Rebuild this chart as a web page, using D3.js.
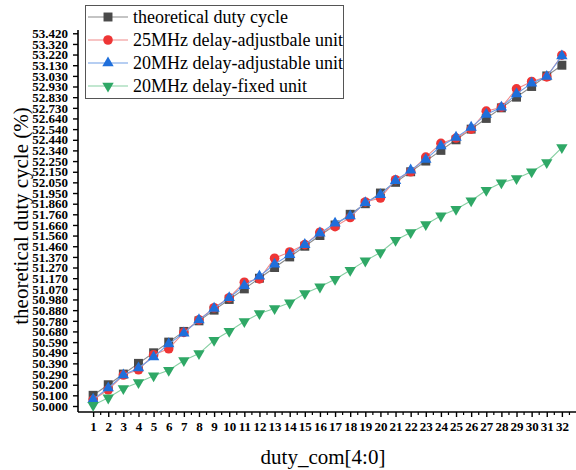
<!DOCTYPE html>
<html>
<head>
<meta charset="utf-8">
<script src="https://cdn.jsdelivr.net/npm/d3@7"></script>
<style>
  body { margin: 0; background: #fff; }
  svg text { font-family: "Liberation Serif", "Times New Roman", serif; }
</style>
</head>
<body>
<svg id="chart" width="576" height="470"></svg>
<script>
// x categories (duty_com code)
const codes = d3.range(1, 33);

const theoretical = [50.098, 50.195, 50.293, 50.391, 50.488, 50.586, 50.684, 50.781, 50.879, 50.977,
  51.074, 51.172, 51.270, 51.367, 51.465, 51.563, 51.660, 51.758, 51.855, 51.953,
  52.051, 52.148, 52.246, 52.344, 52.441, 52.539, 52.637, 52.734, 52.832, 52.930, 53.027, 53.125];
const adj25 = [50.057, 50.149, 50.284, 50.332, 50.470, 50.525, 50.675, 50.790, 50.901, 50.993,
  51.135, 51.166, 51.355, 51.413, 51.480, 51.594, 51.645, 51.728, 51.871, 51.907,
  52.075, 52.148, 52.283, 52.408, 52.457, 52.539, 52.704, 52.740, 52.908, 52.976, 53.018, 53.217];
const adj20 = [50.061, 50.165, 50.284, 50.348, 50.449, 50.570, 50.668, 50.790, 50.895, 50.993,
  51.104, 51.190, 51.300, 51.388, 51.480, 51.585, 51.676, 51.742, 51.864, 51.937,
  52.066, 52.163, 52.261, 52.384, 52.463, 52.555, 52.674, 52.740, 52.862, 52.960, 53.021, 53.210];
const fixed20 = [50.007, 50.075, 50.160, 50.215, 50.277, 50.328, 50.417, 50.481, 50.603, 50.686,
  50.775, 50.848, 50.894, 50.946, 51.032, 51.093, 51.163, 51.245, 51.331, 51.408,
  51.520, 51.591, 51.664, 51.744, 51.805, 51.882, 51.979, 52.047, 52.086, 52.148, 52.233, 52.370];

const yTickValues = [50.000, 50.098, 50.195, 50.293, 50.391, 50.488, 50.586, 50.684, 50.781, 50.879,
  50.977, 51.074, 51.172, 51.270, 51.367, 51.465, 51.563, 51.660, 51.758, 51.855,
  51.953, 52.051, 52.148, 52.246, 52.344, 52.441, 52.539, 52.637, 52.734, 52.832,
  52.930, 53.027, 53.125, 53.223, 53.320, 53.418];
const yTickLabels = ["50.000","50.100","50.200","50.290","50.390","50.490","50.590","50.680","50.780","50.880",
  "50.980","51.070","51.170","51.270","51.370","51.460","51.560","51.660","51.760","51.860",
  "51.950","52.050","52.150","52.250","52.340","52.440","52.540","52.640","52.730","52.830",
  "52.930","53.030","53.130","53.220","53.320","53.420"];

const series = [
  {name: 'theoretical duty cycle', values: theoretical, line: '#8a8a8a', fill: '#4a4a4a', shape: 'square'},
  {name: '25MHz delay-adjustbale unit', values: adj25, line: '#f08a8a', fill: '#ee3535', shape: 'circle'},
  {name: '20MHz delay-adjustable unit', values: adj20, line: '#6f9ee6', fill: '#1f6fdb', shape: 'up'},
  {name: '20MHz delay-fixed unit', values: fixed20, line: '#86cfa2', fill: '#2fa866', shape: 'down'}
];

const svg = d3.select('#chart');
const x = d3.scaleLinear().domain([0, 33]).range([78, 577]);
const y = d3.scaleLinear().domain([49.945, 53.448]).range([412, 30]);

// axes
const xAxis = d3.axisBottom(x).tickValues(codes).tickSize(5).tickPadding(5).tickFormat(d3.format('d'));
const gx = svg.append('g').attr('transform', 'translate(0,412)').call(xAxis);
gx.select('.domain').attr('d', 'M78,0H576').attr('stroke', '#000').attr('stroke-width', 1.6);
gx.selectAll('text').attr('font-size', 13).attr('font-weight', 'bold').attr('fill', '#000');
gx.selectAll('.tick line').attr('stroke-width', 1.4);
// minor ticks between codes
gx.selectAll('.minor').data(codes).enter().append('line')
  .attr('class', 'minor')
  .attr('x1', d => x(d + 0.5)).attr('x2', d => x(d + 0.5))
  .attr('y1', 0).attr('y2', 3)
  .attr('stroke', '#000').attr('stroke-width', 1.2);

const yAxis = d3.axisLeft(y).tickValues(yTickValues).tickSize(5).tickPadding(5)
  .tickFormat((d, i) => yTickLabels[i]);
const gy = svg.append('g').attr('transform', 'translate(78,0)').call(yAxis);
gy.select('.domain').attr('d', 'M0,30V412').attr('stroke', '#000').attr('stroke-width', 1.6);
gy.selectAll('text').attr('font-size', 13).attr('font-weight', 'bold').attr('fill', '#000');
gy.selectAll('.tick line').attr('stroke-width', 1.4);

// axis titles
svg.append('text')
  .attr('x', 323).attr('y', 464)
  .attr('text-anchor', 'middle').attr('font-size', 21)
  .text('duty_com[4:0]');
svg.append('text')
  .attr('transform', 'translate(28,216) rotate(-90)')
  .attr('text-anchor', 'middle').attr('font-size', 21)
  .text('theoretical duty cycle (%)');

function symbolFor(shape) {
  if (shape === 'square') return d3.symbol(d3.symbolSquare, 80);
  if (shape === 'circle') return d3.symbol(d3.symbolCircle, 72);
  return d3.symbol(d3.symbolTriangle, 56);
}

const line = d3.line().x((d, i) => x(codes[i])).y(d => y(d));

series.forEach(s => {
  const g = svg.append('g');
  g.append('path').datum(s.values)
    .attr('d', line).attr('fill', 'none')
    .attr('stroke', s.line).attr('stroke-width', 1.1);
  g.selectAll('path.pt').data(s.values).enter().append('path')
    .attr('class', 'pt')
    .attr('d', symbolFor(s.shape))
    .attr('transform', (d, i) => `translate(${x(codes[i])},${y(d)})` + (s.shape === 'down' ? ' rotate(180)' : ''))
    .attr('fill', s.fill);
});

// legend
const legend = svg.append('g');
legend.append('rect')
  .attr('x', 85.5).attr('y', 5.5).attr('width', 258).attr('height', 93)
  .attr('fill', '#fff').attr('stroke', '#555').attr('stroke-width', 1);
series.forEach((s, i) => {
  const ry = 17 + i * 23;
  legend.append('line').attr('x1', 88).attr('x2', 128).attr('y1', ry).attr('y2', ry)
    .attr('stroke', s.line).attr('stroke-width', 1.1);
  legend.append('path').attr('d', symbolFor(s.shape))
    .attr('transform', `translate(108,${ry})` + (s.shape === 'down' ? ' rotate(180)' : ''))
    .attr('fill', s.fill);
  legend.append('text').attr('x', 133).attr('y', ry + 6)
    .attr('font-size', 18).text(s.name);
});
</script>
</body>
</html>
